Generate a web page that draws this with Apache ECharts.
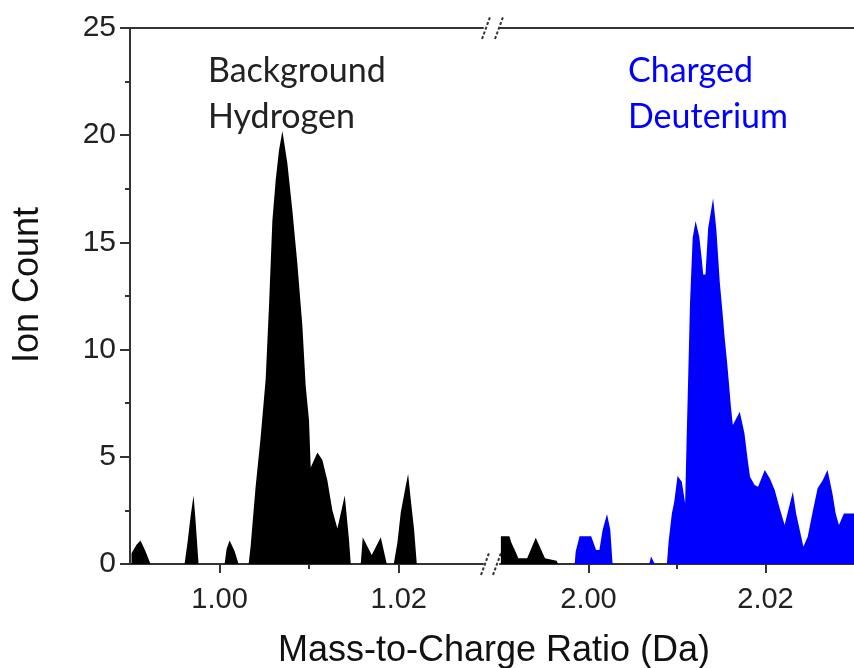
<!DOCTYPE html>
<html>
<head>
<meta charset="utf-8">
<title>Ion Count vs Mass-to-Charge Ratio</title>
<script src="https://cdn.jsdelivr.net/npm/echarts@6/dist/echarts.min.js"></script>
<style>
  html, body { margin: 0; padding: 0; background: #fff; }
  #chart { width: 854px; height: 668px; }
</style>
</head>
<body>
<div id="chart"></div>
<script>
  // background hydrogen, low-mass panel
  var hMass = [0.99017, 0.99073, 0.99117, 0.99173, 0.99229,
    0.99609, 0.99642, 0.99676, 0.99709, 0.99732, 0.99765,
    1.00056, 1.00078, 1.00112, 1.00168, 1.00212,
    1.00324, 1.00346, 1.00402, 1.00458, 1.00514, 1.00551, 1.00589, 1.00626, 1.00663, 1.00701,
    1.00756, 1.00812, 1.00868, 1.00924, 1.00961, 1.00998, 1.01017, 1.01039, 1.01092, 1.01147,
    1.01203, 1.01259, 1.01315, 1.01397, 1.01445, 1.01464,
    1.01575, 1.01598, 1.01698, 1.01799, 1.01866,
    1.01944, 1.01985, 1.02022, 1.02067, 1.02104, 1.02134, 1.02171, 1.02201, 1.0294]
  var hCount = [0.5, 0.9, 1.1, 0.6, 0,
    0, 1.0, 2.2, 3.2, 2.0, 0,
    0, 0.7, 1.1, 0.6, 0,
    0, 0.8, 3.6, 5.9, 8.6, 12.0, 16.0, 17.9, 19.3, 20.2,
    18.7, 16.5, 14.0, 11.1, 8.3, 6.7, 4.5, 4.5, 5.2, 4.85,
    3.9, 2.5, 1.66, 3.2, 1.1, 0,
    0, 1.25, 0.42, 1.25, 0,
    0, 1.0, 2.4, 3.4, 4.2, 3.0, 1.6, 0, 0]

  // background hydrogen, high-mass panel
  var h2Mass = [1.9901, 1.99106, 1.99128, 1.99173, 1.99207, 1.99307, 1.99404, 1.99508, 1.99639, 1.99657]
  var h2Count = [1.3, 1.3, 1.0, 0.6, 0.27, 0.27, 1.23, 0.27, 0.15, 0]

  // charged deuterium
  var dMass = [1.99844, 1.99855, 1.99899, 2.0003, 2.00086, 2.00123, 2.0016, 2.00209, 2.00246, 2.00272,
    2.00687, 2.00707, 2.00749,
    2.00886, 2.00905, 2.00942, 2.00969, 2.01006, 2.01054, 2.01092, 2.01109, 2.01128, 2.01147,
    2.01177, 2.0121, 2.01251, 2.01277, 2.01296, 2.01322, 2.01352, 2.01408, 2.01445, 2.01483,
    2.01512, 2.01539, 2.01564, 2.01587, 2.01609, 2.01631, 2.01709, 2.01762, 2.01799, 2.01825,
    2.01877, 2.01916, 2.01992, 2.02048, 2.02104, 2.0216, 2.02216, 2.02309, 2.02346, 2.02391,
    2.02428, 2.02477, 2.02533, 2.02589, 2.02645, 2.02701, 2.02756, 2.02793, 2.0283, 2.02886,
    2.02942, 2.03]
  var dCount = [0, 0.57, 1.3, 1.3, 0.65, 0.65, 1.6, 2.33, 1.6, 0,
    0, 0.35, 0,
    0, 1.04, 2.36, 2.9, 4.1, 3.84, 2.83, 5.86, 8.97, 12.16,
    15.2, 16.0, 15.27, 14.33, 13.5, 13.5, 15.66, 17.06, 15.58, 13.17,
    11.85, 10.53, 9.5, 8.43, 7.34, 6.48, 7.1, 6.1, 4.85, 4.07,
    3.68, 3.6, 4.38, 4.0, 3.45, 2.6, 1.82, 3.37, 2.36, 1.5,
    0.81, 1.27, 2.44, 3.53, 3.9, 4.38, 3.3, 2.36, 1.82, 2.36,
    2.36, 2.36]

  var leftRange = [0.99, 1.0294]
  var rightRange = [1.99, 2.03]
  var leftTicks = [1.00, 1.02]
  var leftMinor = [1.01]
  var rightTicks = [2.00, 2.02]
  var rightMinor = [2.01]

  function pairs(xs, ys) {
    return xs.map(function (x, i) { return [x, ys[i]] })
  }

  var axisColor = '#333'
  var tickFont = 'Liberation Sans'

  var g0 = { left: 130, top: 28, width: 353, bottom: 104 }
  var g1 = { left: 500, top: 28, right: -4, bottom: 104 }
  var g0End = g0.left + g0.width

  function xAxes(gridIndex, range, ticks, minor) {
    return [{
      gridIndex: gridIndex, type: 'value', position: 'bottom',
      min: range[0], max: range[1],
      axisLine: { lineStyle: { color: axisColor, width: 2 } },
      axisTick: { customValues: ticks, length: 9, lineStyle: { color: axisColor, width: 2 } },
      axisLabel: {
        customValues: ticks, margin: 21, color: '#222',
        fontSize: 29, fontFamily: tickFont,
        formatter: function (v) { return v.toFixed(2) }
      },
      splitLine: { show: false }
    }, {
      gridIndex: gridIndex, type: 'value', position: 'bottom',
      min: range[0], max: range[1],
      axisLine: { show: false },
      axisTick: { customValues: minor, length: 5, lineStyle: { color: axisColor, width: 2 } },
      axisLabel: { show: false },
      splitLine: { show: false }
    }, {
      gridIndex: gridIndex, type: 'value', position: 'top',
      min: range[0], max: range[1],
      axisLine: { lineStyle: { color: axisColor, width: 2 } },
      axisTick: { show: false },
      axisLabel: { show: false },
      splitLine: { show: false }
    }]
  }

  function slash(x, y) {
    return {
      type: 'line',
      shape: { x1: x, y1: y + 11, x2: x + 8, y2: y - 11 },
      style: { stroke: axisColor, lineWidth: 2, lineDash: [3, 2] }
    }
  }

  var baseY = 668 - g0.bottom

  var option = {
    animation: false,
    backgroundColor: '#fff',
    grid: [g0, g1],
    xAxis: xAxes(0, leftRange, leftTicks, leftMinor).concat(xAxes(1, rightRange, rightTicks, rightMinor)),
    yAxis: [{
      gridIndex: 0, type: 'value', min: 0, max: 25, interval: 5,
      axisLine: { show: true, lineStyle: { color: axisColor, width: 2 } },
      axisTick: { show: true, length: 10, lineStyle: { color: axisColor, width: 2 } },
      minorTick: { show: true, splitNumber: 2, length: 5, lineStyle: { color: axisColor, width: 2 } },
      axisLabel: { margin: 14, fontSize: 30, fontFamily: tickFont, color: '#222' },
      splitLine: { show: false }
    }, {
      gridIndex: 1, type: 'value', min: 0, max: 25, show: false
    }],
    series: [{
      name: 'Background Hydrogen', type: 'line',
      xAxisIndex: 0, yAxisIndex: 0,
      symbol: 'none', lineStyle: { width: 0 },
      itemStyle: { color: '#000' },
      areaStyle: { color: '#000', opacity: 1 },
      data: pairs(hMass, hCount)
    }, {
      name: 'Background Hydrogen', type: 'line',
      xAxisIndex: 3, yAxisIndex: 1,
      symbol: 'none', lineStyle: { width: 0 },
      itemStyle: { color: '#000' },
      areaStyle: { color: '#000', opacity: 1 },
      data: pairs(h2Mass, h2Count)
    }, {
      name: 'Charged Deuterium', type: 'line',
      xAxisIndex: 3, yAxisIndex: 1,
      symbol: 'none', lineStyle: { width: 0 },
      itemStyle: { color: '#0000ff' },
      areaStyle: { color: '#0000ff', opacity: 1 },
      data: pairs(dMass, dCount)
    }],
    graphic: [
      // axis break marks
      { type: 'rect', shape: { x: g0End, y: baseY - 4, width: g1.left - g0End, height: 8 }, style: { fill: '#fff' } },
      slash(g0End - 2, baseY), slash(g0End + 10, baseY),
      { type: 'rect', shape: { x: g0End, y: g0.top - 4, width: g1.left - g0End + 3, height: 8 }, style: { fill: '#fff' } },
      slash(g0End - 1, g0.top), slash(g0End + 12, g0.top),
      {
        type: 'text', left: 208, top: 48,
        style: { text: 'Background\nHydrogen', fill: '#222', fontSize: 34, fontFamily: 'Lato', lineHeight: 46 }
      },
      {
        type: 'text', left: 628, top: 48,
        style: { text: 'Charged\nDeuterium', fill: '#0000ff', fontSize: 34, fontFamily: 'Lato', lineHeight: 46 }
      },
      {
        type: 'text', x: 28, y: 285, rotation: Math.PI / 2,
        style: {
          text: 'Ion Count', x: 0, y: 0,
          textAlign: 'center', align: 'center', textVerticalAlign: 'middle', verticalAlign: 'middle',
          fill: '#111', fontSize: 36, fontFamily: tickFont
        }
      },
      {
        type: 'text',
        style: {
          text: 'Mass-to-Charge Ratio (Da)', x: 494, y: 651,
          textAlign: 'center', align: 'center', textVerticalAlign: 'middle', verticalAlign: 'middle',
          fill: '#111', fontSize: 36, fontFamily: tickFont
        }
      }
    ]
  }

  var chart = echarts.init(document.getElementById('chart'))
  chart.setOption(option)
</script>
</body>
</html>
